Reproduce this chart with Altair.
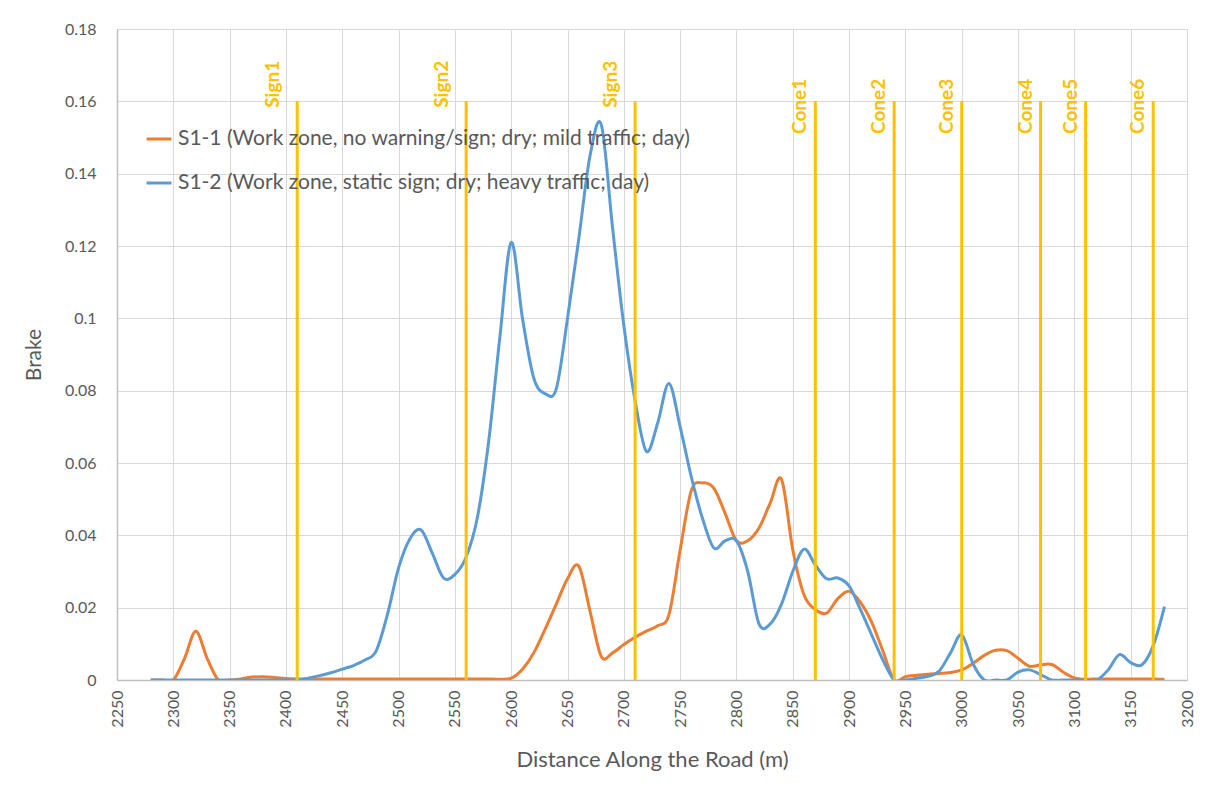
import altair as alt
import pandas as pd

distance = [2280, 2290, 2300, 2310, 2320, 2330, 2340, 2350, 2360, 2370,
            2380, 2390, 2400, 2410, 2420, 2430, 2440, 2450, 2460, 2470,
            2480, 2490, 2500, 2510, 2520, 2530, 2540, 2550, 2560, 2570,
            2580, 2590, 2600, 2610, 2620, 2630, 2640, 2650, 2660, 2670,
            2680, 2690, 2700, 2710, 2720, 2730, 2740, 2750, 2760, 2770,
            2780, 2790, 2800, 2810, 2820, 2830, 2840, 2850, 2860, 2870,
            2880, 2890, 2900, 2910, 2920, 2930, 2940, 2950, 2960, 2970,
            2980, 2990, 3000, 3010, 3020, 3030, 3040, 3050, 3060, 3070,
            3080, 3090, 3100, 3110, 3120, 3130, 3140, 3150, 3160, 3170,
            3180]

s1_1 = [0, 0, 0, 0.006, 0.0135, 0.006, 0, 0, 0.0003, 0.0008,
        0.0009, 0.0007, 0.0004, 0.0003, 0.0003, 0.0003, 0.0003, 0.0003, 0.0003, 0.0003,
        0.0003, 0.0003, 0.0003, 0.0003, 0.0003, 0.0003, 0.0003, 0.0003, 0.0003, 0.0003,
        0.0003, 0.0002, 0.0005, 0.003, 0.0075, 0.014, 0.021, 0.028, 0.0315, 0.019,
        0.0065, 0.0075, 0.0098, 0.0118, 0.0135, 0.015, 0.018, 0.036, 0.0525, 0.0545,
        0.053, 0.046, 0.0385, 0.0385, 0.042, 0.049, 0.0555, 0.036, 0.0235, 0.0195,
        0.0185, 0.0225, 0.0245, 0.0215, 0.016, 0.008, 0, 0.0009, 0.0013, 0.0016,
        0.0018, 0.0021, 0.0028, 0.0046, 0.0068, 0.0082, 0.0081, 0.006, 0.0038, 0.0042,
        0.0043, 0.0022, 0.0006, 0.0002, 0.0003, 0.0003, 0.0003, 0.0003, 0.0003, 0.0003,
        0.0002]

s1_2 = [0, 0, 0, 0, 0, 0, 0, 0, 0, 0,
        0, 0, 0, 0, 0.0005, 0.0012, 0.002, 0.003, 0.004, 0.0055,
        0.008, 0.018, 0.031, 0.039, 0.0415, 0.035, 0.0282, 0.0292, 0.034, 0.045,
        0.066, 0.095, 0.121, 0.1, 0.0835, 0.0792, 0.0805, 0.1, 0.122, 0.145,
        0.1535, 0.125, 0.098, 0.0772, 0.0632, 0.071, 0.082, 0.07, 0.056, 0.0445,
        0.0365, 0.0385, 0.0385, 0.03, 0.0155, 0.0155, 0.021, 0.03, 0.0362, 0.0318,
        0.028, 0.0282, 0.026, 0.0195, 0.0125, 0.0055, 0, 0, 0.0005, 0.001,
        0.0025, 0.0075, 0.0125, 0.0045, 0, 0, 0, 0.0022, 0.0028, 0.0015,
        0, 0, 0, 0, 0, 0.0028, 0.007, 0.0048, 0.0042, 0.0095,
        0.0203]

series_names = ["S1-1 (Work zone, no warning/sign; dry; mild traffic; day)",
                "S1-2 (Work zone, static sign; dry; heavy traffic; day)"]
series_colors = ["#ED7D31", "#5B9BD5"]

sign_names = ["Sign1", "Sign2", "Sign3"]
sign_pos = [2410, 2560, 2710]
cone_names = ["Cone1", "Cone2", "Cone3", "Cone4", "Cone5", "Cone6"]
cone_pos = [2870, 2940, 3000, 3070, 3110, 3170]
marker_top = 0.16

x_ticks = [2250, 2300, 2350, 2400, 2450, 2500, 2550, 2600, 2650, 2700,
           2750, 2800, 2850, 2900, 2950, 3000, 3050, 3100, 3150, 3200]
y_ticks = [0, 0.02, 0.04, 0.06, 0.08, 0.1, 0.12, 0.14, 0.16, 0.18]

assert len(distance) == len(s1_1) == len(s1_2)

FONT = "Lato"
TXT = "#595959"
GOLD = "#FFC000"

rows = []
for d, a, b in zip(distance, s1_1, s1_2):
    rows.append({"distance": d, "brake": a, "series": series_names[0]})
    rows.append({"distance": d, "brake": b, "series": series_names[1]})
lines_df = pd.DataFrame(rows)

signs_df = pd.DataFrame({"name": sign_names, "pos": sign_pos, "top": [marker_top] * len(sign_pos)})
cones_df = pd.DataFrame({"name": cone_names, "pos": cone_pos, "top": [marker_top] * len(cone_pos)})
markers_df = pd.concat([signs_df, cones_df], ignore_index=True)

xscale = alt.Scale(domain=[2250, 3200], nice=False, zero=False)
yscale = alt.Scale(domain=[0, 0.18], nice=False)

lines = alt.Chart(lines_df).mark_line(
    strokeWidth=3, interpolate="cardinal", clip=True
).encode(
    x=alt.X("distance:Q", scale=xscale,
            axis=alt.Axis(values=x_ticks, title="Distance Along the Road (m)", format="d",
                          labelAngle=270, labelAlign="right", labelBaseline="middle",
                          labelPadding=10, titlePadding=22, titleFontSize=22, ticks=False,
                          grid=True)),
    y=alt.Y("brake:Q", scale=yscale,
            axis=alt.Axis(values=y_ticks, title="Brake", format="~g",
                          labelPadding=21, titlePadding=20, ticks=False, grid=True)),
    color=alt.Color("series:N",
                    scale=alt.Scale(domain=series_names, range=series_colors),
                    legend=alt.Legend(title=None, orient="none", legendX=28, legendY=96,
                                      symbolType="stroke", symbolSize=620,
                                      symbolStrokeWidth=3, labelFontSize=21,
                                      labelColor=TXT, labelFont=FONT, rowPadding=20,
                                      labelLimit=800, labelOffset=5)),
    detail="series:N",
)

rules = alt.Chart(markers_df).mark_rule(color=GOLD, strokeWidth=3).encode(
    x=alt.X("pos:Q", scale=xscale),
    y=alt.Y("top:Q", scale=yscale),
    y2=alt.datum(0),
)

sign_text = alt.Chart(signs_df).mark_text(
    angle=270, align="center", baseline="middle", color=GOLD,
    font=FONT, fontSize=19, fontWeight="bold", dx=17, dy=-24
).encode(
    x=alt.X("pos:Q", scale=xscale),
    y=alt.Y("top:Q", scale=yscale),
    text="name:N",
)

cone_text = alt.Chart(cones_df).mark_text(
    angle=270, align="center", baseline="middle", color=GOLD,
    font=FONT, fontSize=19, fontWeight="bold", dx=-5, dy=-15
).encode(
    x=alt.X("pos:Q", scale=xscale),
    y=alt.Y("top:Q", scale=yscale),
    text="name:N",
)

chart = alt.layer(lines, rules, sign_text, cone_text).properties(
    width=1070, height=651,
    autosize=alt.AutoSizeParams(type="none"),
    padding={"left": 109, "top": 21, "right": 11, "bottom": 100},
    background="white",
).configure_view(stroke=None).configure_axis(
    labelFont=FONT, titleFont=FONT, labelColor=TXT, titleColor=TXT,
    labelFontSize=16, titleFontSize=21, titleFontWeight="normal",
    gridColor="#D9D9D9", gridWidth=1, domainColor="#BFBFBF", domainWidth=1.5,
)

chart.save("out.html", embed_options={"renderer": "svg", "actions": False})
